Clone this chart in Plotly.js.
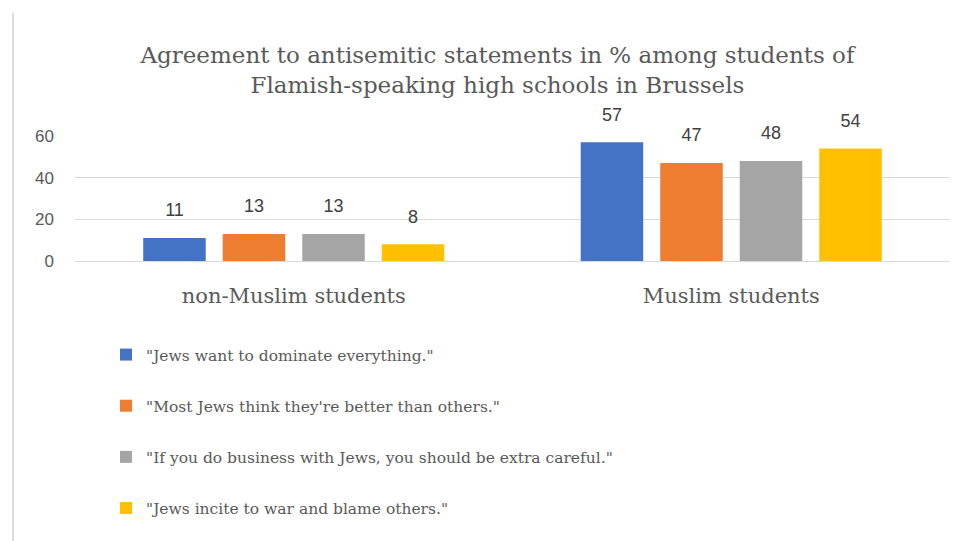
<!DOCTYPE html>
<html>
<head>
<meta charset="utf-8">
<script src="https://cdn.plot.ly/plotly-3.0.1.min.js"></script>
<style>
  html, body { margin: 0; padding: 0; background: #fff; }
  #wrap { position: relative; width: 964px; height: 541px; }
  #frame { position: absolute; left: 12px; top: 13px; width: 2px; height: 528px; background: #dcdcdc; z-index: 5; }
  #chart { position: absolute; left: 0; top: 0; width: 964px; height: 541px; }
</style>
</head>
<body>
<div id="wrap">
  <div id="frame"></div>
  <div id="chart"></div>
</div>
<script>
const categories = ["non-Muslim students", "Muslim students"];
const seriesNames = [
  "\"Jews want to dominate everything.\"",
  "\"Most Jews think they're better than others.\"",
  "\"If you do business with Jews, you should be extra careful.\"",
  "\"Jews incite to war and blame others.\""
];
const dominate = [11, 57];
const betterThanOthers = [13, 47];
const extraCareful = [13, 48];
const inciteWar = [8, 54];
const yTicks = [0, 20, 40, 60];

const colors = ["#4472C4", "#ED7D31", "#A5A5A5", "#FFC000"];
const seriesValues = [dominate, betterThanOthers, extraCareful, inciteWar];
const serif = "DejaVu Serif, Liberation Serif, serif";
const sans = "Liberation Sans, Arial, sans-serif";

const traces = seriesValues.map((vals, i) => ({
  type: "bar",
  name: seriesNames[i],
  x: categories,
  y: vals,
  marker: { color: colors[i] },
  text: vals.map(v => String(v)),
  texttemplate: "<span style='font-size:18px'>%{text}</span><br> ",
  textposition: "outside",
  cliponaxis: false,
  textfont: { family: sans, size: 12, color: "#404040" },
  legendgroup: "g" + i,
  hoverinfo: "x+y+name"
}));

const layout = {
  width: 964,
  height: 541,
  margin: { l: 75, r: 14, t: 136, b: 280, autoexpand: false },
  paper_bgcolor: "#ffffff",
  plot_bgcolor: "#ffffff",
  title: {
    text: "Agreement to antisemitic statements in % among students of<br>Flamish-speaking high schools in Brussels",
    font: { family: serif, size: 23, color: "#595959" },
    x: 0.516,
    xanchor: "center",
    y: 1 - 63 / 541,
    yanchor: "middle"
  },
  bargap: 0.273,
  bargroupgap: 0.214,
  barmode: "group",
  xaxis: {
    type: "category",
    showgrid: false,
    showline: false,
    zeroline: false,
    ticks: "",
    tickangle: 0,
    automargin: false,
    ticklabelstandoff: 20,
    tickfont: { family: serif, size: 21, color: "#595959" }
  },
  yaxis: {
    range: [0, 60],
    tickvals: yTicks,
    ticktext: yTicks.map(String),
    showgrid: true,
    gridcolor: "#d9d9d9",
    gridwidth: 1,
    zeroline: true,
    zerolinecolor: "#d9d9d9",
    zerolinewidth: 1,
    showline: false,
    ticks: "",
    automargin: false,
    ticklabelstandoff: 20,
    tickfont: { family: sans, size: 17, color: "#595959" }
  },
  showlegend: true,
  legend: {
    orientation: "v",
    xref: "container",
    yref: "container",
    x: 106 / 964,
    xanchor: "left",
    y: 1 - 338 / 541,
    yanchor: "top",
    traceorder: "grouped",
    tracegroupgap: 28,
    font: { family: serif, size: 15.5, color: "#595959" },
    bgcolor: "rgba(0,0,0,0)"
  }
};

Plotly.newPlot("chart", traces, layout, { displayModeBar: false, staticPlot: true });
</script>
</body>
</html>
